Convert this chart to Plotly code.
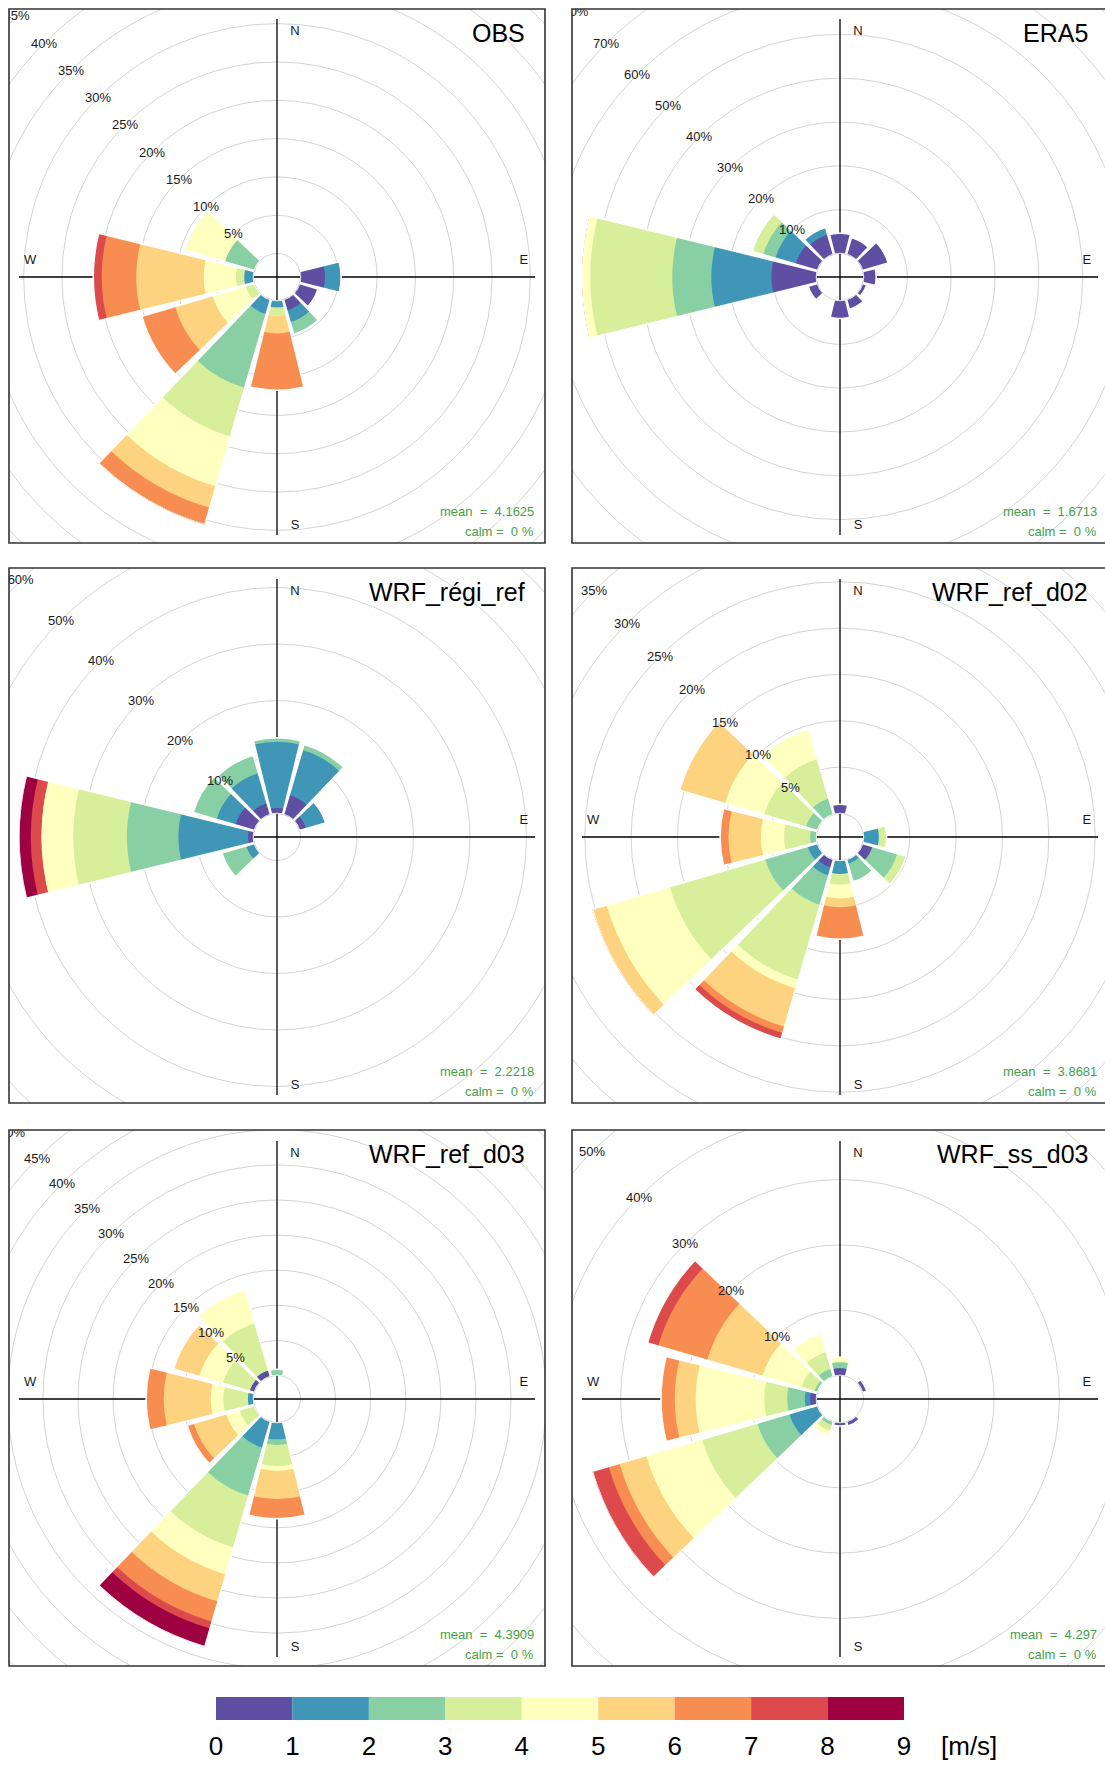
import numpy as np
import plotly.graph_objects as go

W, H = 1105, 1765

# ---------------- data ----------------
DIRECTIONS = [0, 30, 60, 90, 120, 150, 180, 210, 240, 270, 300, 330]
SPEED_EDGES = [0, 1, 2, 3, 4, 5, 6, 7, 8, 9]
SPEED_COLOURS = ["#5E4FA2", "#3F96B7", "#88CFA4", "#D7EF9B", "#FFFFBF",
                 "#FED380", "#F88D52", "#DD4A4C", "#9E0142"]

# frequency (%) per direction (rows, same order as DIRECTIONS) and speed bin (columns 0-1 ... 8-9 m/s)
OBS_FREQ = [
    [0, 0, 0, 0, 0, 0, 0, 0, 0],
    [0, 0, 0, 0, 0, 0, 0, 0, 0],
    [0, 0, 0, 0, 0, 0, 0, 0, 0],
    [3.2, 2.1, 0, 0, 0, 0, 0, 0, 0],
    [2.5, 0, 0, 0, 0, 0, 0, 0, 0],
    [1.5, 1.6, 1.6, 0, 0, 0, 0, 0, 0],
    [0, 0.9, 0, 1.1, 0, 2.3, 7.4, 0, 0],
    [0, 2.0, 10.0, 6.6, 6.8, 2.9, 2.3, 0, 0],
    [0, 0, 0, 1.2, 4.5, 5.1, 4.5, 0, 0],
    [0, 1.2, 0, 1.1, 4.2, 8.8, 4.5, 1.1, 0],
    [0, 0, 4.0, 0, 5.5, 0, 0, 0, 0],
    [0, 0, 0, 0, 0, 0, 0, 0, 0],
]
ERA5_FREQ = [
    [4.6, 0, 0, 0, 0, 0, 0, 0, 0],
    [4.0, 0, 0, 0, 0, 0, 0, 0, 0],
    [6.1, 0, 0, 0, 0, 0, 0, 0, 0],
    [2.9, 0, 0, 0, 0, 0, 0, 0, 0],
    [1.0, 0, 0, 0, 0, 0, 0, 0, 0],
    [2.3, 0, 0, 0, 0, 0, 0, 0, 0],
    [4.1, 0, 0, 0, 0, 0, 0, 0, 0],
    [0, 0, 0, 0, 0, 0, 0, 0, 0],
    [2.2, 0, 0, 0, 0, 0, 0, 0, 0],
    [10.3, 13.7, 8.9, 18.7, 1.9, 0, 0, 0, 0],
    [5.2, 4.8, 2.9, 2.6, 0, 0, 0, 0, 0],
    [4.7, 1.7, 0, 0, 0, 0, 0, 0, 0],
]
REGI_FREQ = [
    [1.0, 11.7, 0.7, 0, 0, 0, 0, 0, 0],
    [3.6, 8.3, 1.0, 0, 0, 0, 0, 0, 0],
    [1.2, 3.6, 0, 0, 0, 0, 0, 0, 0],
    [0, 0, 0, 0, 0, 0, 0, 0, 0],
    [0, 0, 0, 0, 0, 0, 0, 0, 0],
    [0, 0, 0, 0, 0, 0, 0, 0, 0],
    [0, 0, 0, 0, 0, 0, 0, 0, 0],
    [0, 0, 0, 0, 0, 0, 0, 0, 0],
    [0, 1.5, 4.5, 0, 0, 0, 0, 0, 0],
    [1.0, 12.3, 9.1, 9.5, 5.6, 0, 0, 1.9, 2.1],
    [3.5, 3.5, 4.3, 0, 0, 0, 0, 0, 0],
    [2.1, 5.5, 3.3, 0, 0, 0, 0, 0, 0],
]
D02_FREQ = [
    [1.0, 0, 0, 0, 0, 0, 0, 0, 0],
    [0, 0, 0, 0, 0, 0, 0, 0, 0],
    [0, 0, 0, 0, 0, 0, 0, 0, 0],
    [0, 1.65, 0, 0.85, 0, 0, 0, 0, 0],
    [1.1, 0, 2.8, 1.0, 0, 0, 0, 0, 0],
    [0, 0.5, 2.0, 0, 0, 0, 0, 0, 0],
    [0, 1.45, 0, 1.15, 1.5, 0.95, 3.45, 0, 0],
    [0.9, 0.9, 3.3, 8.4, 1.0, 4.3, 0.7, 0.7, 0],
    [0, 1.1, 4.8, 10.7, 7.1, 1.6, 0, 0, 0],
    [0, 0, 0.7, 2.8, 2.5, 3.5, 0.9, 0, 0],
    [0, 0, 1.3, 4.7, 4.4, 5.1, 0, 0, 0],
    [0, 0, 1.8, 4.4, 3.4, 0, 0, 0, 0],
]
D03_FREQ = [
    [0, 0, 0.9, 0, 0, 0, 0, 0, 0],
    [0, 0, 0, 0, 0, 0, 0, 0, 0],
    [0, 0, 0, 0, 0, 0, 0, 0, 0],
    [0, 0, 0, 0, 0, 0, 0, 0, 0],
    [0, 0, 0, 0, 0, 0, 0, 0, 0],
    [0, 0, 0, 0, 0, 0, 0, 0, 0],
    [0, 2.4, 0.8, 3.0, 0.7, 4.0, 2.8, 0, 0],
    [0, 3.9, 7.1, 7.7, 4.0, 4.0, 3.0, 1.0, 2.7],
    [0, 0, 0, 2.2, 2.0, 4.8, 1.0, 0, 0],
    [0, 0.8, 0, 3.5, 1.8, 6.7, 2.5, 0, 0],
    [0.7, 0, 0, 4.0, 3.5, 3.8, 0, 0, 0],
    [0.9, 0, 0, 7.0, 5.0, 0, 0, 0, 0],
]
SS_FREQ = [
    [1.1, 0, 0.95, 0, 0.75, 0, 0, 0, 0],
    [0, 0, 0, 0, 0, 0, 0, 0, 0],
    [0.7, 0, 0, 0, 0, 0, 0, 0, 0],
    [0, 0, 0, 0, 0, 0, 0, 0, 0],
    [0, 0, 0, 0, 0, 0, 0, 0, 0],
    [0.7, 0, 0, 0, 0, 0, 0, 0, 0],
    [0.55, 0, 0, 0, 0, 0, 0, 0, 0],
    [0, 0, 0.6, 0.9, 0.8, 0, 0, 0, 0],
    [0, 4.5, 5.1, 8.8, 8.9, 4.3, 1.7, 2.6, 0],
    [1.0, 0.8, 2.7, 3.5, 10.5, 3.2, 2.1, 0, 0],
    [0, 0, 0.5, 2.1, 6.2, 8.8, 7.8, 1.7, 0],
    [0, 0, 1.25, 2.65, 3.0, 0, 0, 0, 0],
]

PANEL_NAMES = ["OBS", "ERA5", "WRF_régi_ref", "WRF_ref_d02", "WRF_ref_d03", "WRF_ss_d03"]
PANEL_FREQ = [OBS_FREQ, ERA5_FREQ, REGI_FREQ, D02_FREQ, D03_FREQ, SS_FREQ]
MEAN_SPEED = ["4.1625", "1.6713", "2.2218", "3.8681", "4.3909", "4.297"]
CALM_PCT = ["0", "0", "0", "0", "0", "0"]
RING_STEP = [5, 10, 10, 5, 5, 10]
COMPASS = [("N", 0.07, 0.95), ("S", 0.07, -0.965), ("W", -0.957, 0.064), ("E", 0.957, 0.064)]

# ---------------- layout geometry (pixels) ----------------
BOX_X = [(9, 545), (572, 1108)]
BOX_Y = [(9, 543), (568, 1103), (1130, 1666)]
CTR_X = [277, 840]
CTR_Y = [277, 837, 1399]
R_PX = 258
OFFSET_FRAC = 0.10
WEDGE_DEG = 27.5

FONT = "Liberation Sans, Arial, Helvetica, sans-serif"
NARROW = "Liberation Sans Narrow, Arial Narrow, Liberation Sans, Arial, sans-serif"
GREEN = "#46a046"
NBSP = "\u00a0"

fig = go.Figure()
layout = {}
annotations = []
shapes = []

for i, freq in enumerate(PANEL_FREQ):
    col, row = i % 2, i // 2
    bx0, bx1 = BOX_X[col]
    by0, by1 = BOX_Y[row]
    cx, cy = CTR_X[col], CTR_Y[row]
    f = np.array(freq, dtype=float)
    totals = f.sum(axis=1)
    cum = np.cumsum(f, axis=1)
    fmax = totals.max()
    off = OFFSET_FRAC * fmax
    rd = fmax + off
    k = R_PX / rd  # pixels per % unit
    sfx = "" if i == 0 else str(i + 1)
    xr, yr = "x" + sfx, "y" + sfx
    vx1 = min(bx1, W)

    layout["xaxis" + sfx] = dict(domain=[bx0 / W, vx1 / W],
                                 range=[(bx0 - cx) / k, (vx1 - cx) / k],
                                 anchor=yr, visible=False, fixedrange=True)
    layout["yaxis" + sfx] = dict(domain=[1 - by1 / H, 1 - by0 / H],
                                 range=[(cy - by1) / k, (cy - by0) / k],
                                 anchor=xr, visible=False, fixedrange=True)

    # grid rings (incl. calm circle)
    step = RING_STEP[i]
    corner = np.hypot(max(cx - bx0, bx1 - cx), max(cy - by0, by1 - cy))
    v = 0
    while (v + off) * k <= corner:
        r = v + off
        shapes.append(dict(type="circle", xref=xr, yref=yr, x0=-r, x1=r, y0=-r, y1=r,
                           line=dict(color="#d4d4d4", width=1), layer="below"))
        v += step

    # cross axes
    shapes.append(dict(type="line", xref=xr, yref=yr, x0=0, x1=0, y0=-rd, y1=rd,
                       line=dict(color="black", width=1.3), layer="below"))
    shapes.append(dict(type="line", xref=xr, yref=yr, x0=-rd, x1=rd, y0=0, y1=0,
                       line=dict(color="black", width=1.3), layer="below"))

    # ring labels along NW diagonal
    clip_x, clip_y, clip_t = [], [], []
    v = step
    while True:
        d = (v + off) / np.sqrt(2)
        lx, ly = cx - d * k, cy - d * k
        txt = f"{v}%"
        hw = 4.5 * len(txt)
        if lx + hw < bx0 or ly + 7 < by0:
            break
        if lx - hw > bx0 + 2 and ly - 8 > by0 + 2:
            annotations.append(dict(x=-d, y=d, xref=xr, yref=yr, text=txt, showarrow=False,
                                    font=dict(family=FONT, size=13, color="#1a1a1a"),
                                    xanchor="center", yanchor="middle"))
        else:
            clip_x.append(-d)
            clip_y.append(d)
            clip_t.append(txt)
        v += step
    # compass labels sit underneath the wedges
    for txt, fx, fy in COMPASS:
        clip_x.append(fx * rd)
        clip_y.append(fy * rd)
        clip_t.append(txt)
    fig.add_trace(go.Scatter(x=clip_x, y=clip_y, text=clip_t, mode="text",
                             textfont=dict(family=FONT, size=13, color="#1a1a1a"),
                             xaxis=xr, yaxis=yr, cliponaxis=True,
                             hoverinfo="skip", showlegend=False))

    # polar subplot with stacked wedges
    pname = "polar" + sfx
    layout[pname] = dict(
        domain=dict(x=[(cx - R_PX) / W, (cx + R_PX) / W], y=[1 - (cy + R_PX) / H, 1 - (cy - R_PX) / H]),
        hole=off / rd, barmode="overlay", bgcolor="rgba(0,0,0,0)",
        radialaxis=dict(range=[0, fmax], visible=False, showgrid=False, showline=False,
                        showticklabels=False, ticks=""),
        angularaxis=dict(rotation=90, direction="clockwise", visible=False, showgrid=False,
                         showline=False, showticklabels=False, ticks=""),
    )
    for b in reversed(range(len(SPEED_COLOURS))):
        fig.add_trace(go.Barpolar(r=cum[:, b], theta=DIRECTIONS, width=WEDGE_DEG,
                                  marker=dict(color=SPEED_COLOURS[b], line=dict(width=0)),
                                  subplot=pname, hoverinfo="skip", showlegend=False))
    nz = totals > 0
    fig.add_trace(go.Barpolar(r=totals[nz], theta=np.array(DIRECTIONS)[nz], width=WEDGE_DEG,
                              marker=dict(color="rgba(0,0,0,0)", line=dict(color="white", width=1.5)),
                              subplot=pname, hoverinfo="skip", showlegend=False))

    # panel title and statistics
    annotations.append(dict(x=(bx1 - 18) / W, y=1 - (by0 + 24) / H, xref="paper", yref="paper",
                            text=PANEL_NAMES[i], showarrow=False, xanchor="right", yanchor="middle",
                            font=dict(family=FONT, size=25, color="black")))
    annotations.append(dict(x=(bx1 - 9) / W, y=1 - (by1 - 32) / H, xref="paper", yref="paper",
                            text=f"mean{NBSP}{NBSP}={NBSP}{NBSP}{MEAN_SPEED[i]}", showarrow=False,
                            xanchor="right", yanchor="middle",
                            font=dict(family=FONT, size=13, color=GREEN)))
    annotations.append(dict(x=(bx1 - 9) / W, y=1 - (by1 - 12) / H, xref="paper", yref="paper",
                            text=f"calm{NBSP}={NBSP}{NBSP}{CALM_PCT[i]}{NBSP}%", showarrow=False,
                            xanchor="right", yanchor="middle",
                            font=dict(family=FONT, size=13, color=GREEN)))

    # panel frame
    shapes.append(dict(type="rect", xref="paper", yref="paper",
                       x0=bx0 / W, x1=bx1 / W, y0=1 - by1 / H, y1=1 - by0 / H,
                       line=dict(color="#333333", width=1.6), layer="above"))

# ---------------- colour key ----------------
centers = [(a + b) / 2 for a, b in zip(SPEED_EDGES[:-1], SPEED_EDGES[1:])]
widths = [b - a for a, b in zip(SPEED_EDGES[:-1], SPEED_EDGES[1:])]
fig.add_trace(go.Bar(x=centers, y=[1] * len(centers), width=widths,
                     marker=dict(color=SPEED_COLOURS, line=dict(width=0)),
                     xaxis="x7", yaxis="y7", hoverinfo="skip", showlegend=False))
layout["xaxis7"] = dict(domain=[216 / W, 904 / W], range=[SPEED_EDGES[0], SPEED_EDGES[-1]], anchor="y7",
                        tickvals=SPEED_EDGES, ticktext=[str(e) for e in SPEED_EDGES],
                        ticks="", showline=False, showgrid=False, zeroline=False, fixedrange=True,
                        tickfont=dict(family=NARROW, size=26, color="black"), ticklabelstandoff=8)
layout["yaxis7"] = dict(domain=[1 - 1720 / H, 1 - 1697 / H], range=[0, 1], anchor="x7",
                        visible=False, fixedrange=True)
annotations.append(dict(x=969 / W, y=1 - 1746 / H, xref="paper", yref="paper", text="[m/s]",
                        showarrow=False, xanchor="center", yanchor="middle",
                        font=dict(family=NARROW, size=26, color="black")))

fig.update_layout(
    template="none",
    width=W, height=H,
    margin=dict(l=0, r=0, t=0, b=0),
    paper_bgcolor="white", plot_bgcolor="white",
    showlegend=False,
    annotations=annotations,
    shapes=shapes,
    **layout,
)

fig.write_html(
    "out.html",
    config={"displayModeBar": False, "staticPlot": True},
    post_script=("document.documentElement.style.margin='0';"
                 "document.body.style.margin='0';document.body.style.padding='0';"
                 "document.documentElement.style.overflow='hidden';"
                 "document.body.style.overflow='hidden';"),
)
